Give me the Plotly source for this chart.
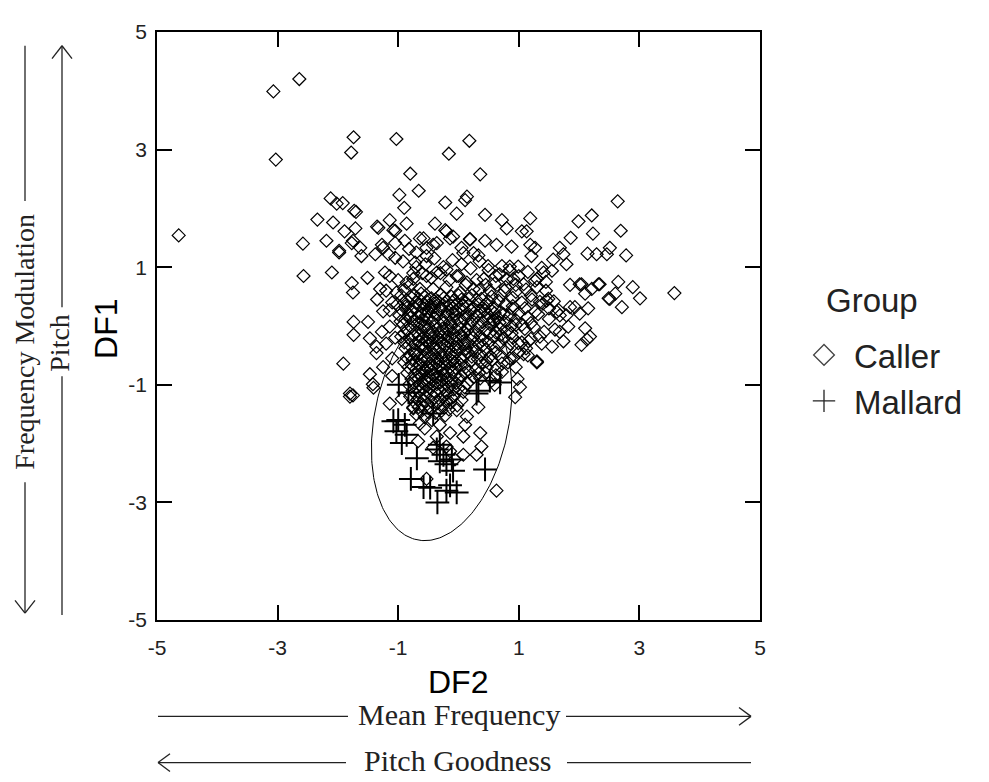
import numpy as np
import plotly.graph_objects as go

# ---------------- data (DF2, DF1) ----------------
CALLER_OUTLYING = [
    (-4.64, 1.54), (-3.07, 3.99), (-2.64, 4.20), (-3.03, 2.83), (-1.74, 3.21), (-1.78, 2.95),
    (-1.03, 3.18), (0.18, 3.15), (-0.16, 2.93), (-0.80, 2.59), (0.36, 2.58), (-0.66, 2.30),
    (-0.98, 2.23), (-0.90, 2.01), (-0.22, 2.10), (0.11, 2.14), (0.14, 2.20), (-0.03, 1.91),
    (3.58, 0.56), (3.01, 0.47), (0.63, -2.80),
]
CALLER_UPPER_LEFT = [
    (-2.12, 2.17), (-2.02, 2.08), (-1.92, 2.09), (-1.73, 1.96), (-1.70, 1.94), (-2.34, 1.81),
    (-2.08, 1.76), (-2.58, 1.40), (-2.57, 0.85), (-2.19, 1.45), (-1.89, 1.61), (-1.71, 1.66),
    (-1.75, 1.45), (-1.98, 1.28), (-1.63, 1.33), (-2.10, 0.91), (-1.33, 1.67), (-1.14, 1.80),
    (-0.86, 1.74), (-1.05, 1.62), (-0.89, 1.45), (-1.27, 1.38), (-0.82, 1.31), (-0.39, 1.74),
    (-0.58, 1.49), (-0.42, 1.38), (-0.14, 1.49), (-0.22, 1.63), (-1.98, 1.25), (-1.77, 1.41),
    (-1.61, 1.19), (-1.51, 0.82), (-1.77, 0.73), (-1.75, 0.57), (-1.35, 1.69), (-1.08, 1.63),
    (-1.05, 1.41), (-1.25, 1.33), (-1.38, 1.22), (-1.16, 1.22), (-1.05, 1.16), (-1.22, 0.91),
    (-0.92, 1.10), (-0.72, 1.08), (-0.53, 1.19), (-0.64, 1.49), (-0.53, 1.33), (-0.36, 1.41),
    (-0.20, 1.61), (-0.09, 1.52), (0.05, 1.33), (0.19, 1.47), (0.25, 1.24), (-0.75, 0.80),
    (-0.53, 0.85), (-0.36, 0.91), (-0.20, 0.96), (-0.03, 0.85), (0.14, 0.74), (-0.86, 0.74),
    (-0.64, 0.63), (-0.42, 0.63), (-0.20, 0.66), (0.02, 0.57), (0.25, 0.63), (-1.03, 0.57),
    (-1.30, 0.63), (-1.14, 0.85), (-0.70, 1.25), (-0.55, 1.05), (-0.40, 1.15), (-0.25, 1.00),
    (-0.10, 1.12), (0.05, 1.05), (0.20, 0.98), (0.35, 1.10), (-0.60, 0.90), (-0.45, 0.82),
    (-0.30, 0.90), (-0.15, 0.78), (0.00, 0.85), (0.12, 0.70), (0.30, 0.78), (0.45, 0.70),
    (-0.80, 0.70), (-1.00, 0.78), (-1.20, 0.60), (-1.35, 0.45), (-1.10, 0.40), (-1.25, 0.25),
    (-0.90, 0.62), (-0.75, 0.90), (-0.70, 1.00),
]
CALLER_UPPER_RIGHT = [
    (2.64, 2.12), (2.21, 1.88), (1.99, 1.78), (2.69, 1.62), (2.23, 1.57), (1.86, 1.50),
    (2.14, 1.23), (2.29, 1.22), (2.46, 1.22), (2.51, 1.33), (2.78, 1.20), (1.68, 1.33),
    (1.74, 1.22), (1.79, 1.05), (1.57, 1.13), (1.38, 0.99), (1.55, 0.94), (2.89, 0.66),
    (2.65, 0.75), (2.71, 0.32), (2.51, 0.46), (2.60, 0.55), (2.34, 0.71), (2.21, 0.63),
    (2.10, 0.55), (2.01, 0.71), (1.85, 0.70), (2.15, 0.30), (1.93, 0.32), (1.66, 0.27),
    (1.79, 0.18), (1.45, 0.75), (1.30, 0.80), (1.49, 0.46), (1.35, 0.41), (0.44, 1.89),
    (0.72, 1.80), (1.19, 1.83), (0.80, 1.66), (1.05, 1.61), (1.13, 1.61), (0.19, 1.48),
    (0.44, 1.45), (0.63, 1.38), (0.88, 1.35), (1.19, 1.38), (1.27, 1.33), (0.33, 1.20),
    (0.08, 1.24), (1.21, 1.19), (0.49, 1.02), (0.72, 1.02), (0.85, 1.01), (0.99, 1.01),
    (2.49, 0.47), (2.32, 0.71), (2.04, 0.71), (2.18, -0.18), (2.13, -0.23), (2.04, -0.32),
    (2.10, -0.04), (1.82, -0.01), (1.68, -0.10), (1.74, -0.26), (2.01, 0.21), (1.85, 0.32),
    (1.63, 0.24), (1.46, 0.43), (1.27, 0.24), (1.30, -0.60), (1.05, 0.02), (0.88, -0.12),
    (0.99, -0.29), (1.16, -0.26), (1.08, -0.48), (0.91, -0.54), (1.41, 0.91), (1.27, 0.77),
    (0.91, 0.80), (1.08, 0.71),
]
CALLER_WING = [
    (0.50, 0.95), (0.68, 0.88), (0.85, 0.95), (1.00, 0.85), (1.15, 0.92), (0.60, 0.72),
    (0.78, 0.66), (0.95, 0.70), (1.12, 0.62), (1.30, 0.66), (1.45, 0.60), (0.70, 0.52),
    (0.90, 0.48), (1.05, 0.40), (1.22, 0.45), (1.40, 0.38), (1.58, 0.42), (1.00, 0.22),
    (1.15, 0.15), (1.32, 0.20), (1.50, 0.12), (1.68, 0.18), (0.95, 0.02), (1.10, -0.05),
    (1.25, -0.02), (1.42, -0.10), (1.60, -0.06), (0.90, -0.20), (1.05, -0.28), (1.20, -0.22),
    (1.38, -0.30), (1.55, -0.35), (1.00, -0.45), (1.15, -0.50), (0.85, -0.55), (0.95, -0.70),
    (0.98, -0.90), (0.60, -1.00), (0.35, 0.62), (0.52, 0.60), (0.42, 0.80), (0.62, 0.85),
    (0.80, 0.80), (0.58, 0.08), (0.75, 0.20), (0.90, 0.34), (0.82, -0.62), (0.72, -0.78),
    (1.10, 0.30), (1.20, 0.05), (1.35, -0.18), (1.50, 0.30), (1.12, -0.38), (0.76, 0.60),
    (0.95, 0.58), (1.20, 0.52),
]
CALLER_LEFT = [
    (-1.74, 0.07), (-1.50, 0.07), (-1.74, -0.15), (-1.47, -0.21), (-1.36, -0.35), (-1.27, -0.10),
    (-1.14, -0.01), (-1.36, -0.46), (-1.91, -0.64), (-1.47, -0.82), (-1.42, -0.99), (-1.80, -1.15),
    (-1.14, 0.27), (-1.20, -0.30), (-1.10, -0.55), (-1.05, -0.20), (-1.25, -0.70), (-1.10, -0.85),
]
CALLER_CORE = [
    (-0.95, 0.52), (-0.78, 0.48), (-0.62, 0.55), (-0.45, 0.47), (-0.30, 0.53), (-0.12, 0.50),
    (0.05, 0.45), (0.22, 0.52), (0.38, 0.46), (0.55, 0.50), (-0.70, 0.40), (-0.20, 0.42),
    (-1.02, 0.36), (-0.88, 0.33), (-0.72, 0.30), (-0.58, 0.37), (-0.40, 0.32), (-0.26, 0.36),
    (-0.10, 0.30), (0.08, 0.35), (0.25, 0.30), (0.42, 0.34), (0.60, 0.30), (0.78, 0.36),
    (-0.50, 0.25), (0.15, 0.22), (-0.98, 0.18), (-0.82, 0.20), (-0.66, 0.15), (-0.52, 0.12),
    (-0.36, 0.20), (-0.22, 0.16), (-0.05, 0.20), (0.10, 0.12), (0.30, 0.17), (0.48, 0.20),
    (0.65, 0.14), (0.85, 0.18), (-0.44, 0.08), (-0.15, 0.06), (-0.92, 0.02), (-0.78, -0.02),
    (-0.63, 0.04), (-0.50, -0.03), (-0.38, 0.01), (-0.27, -0.05), (-0.12, 0.00), (0.02, -0.04),
    (0.18, 0.02), (0.35, -0.02), (0.52, 0.03), (0.70, -0.05), (0.88, 0.00), (-0.70, -0.10),
    (-0.32, -0.12), (0.10, -0.10), (-0.95, -0.18), (-0.80, -0.22), (-0.66, -0.17), (-0.55, -0.25),
    (-0.42, -0.20), (-0.30, -0.24), (-0.18, -0.18), (-0.05, -0.22), (0.08, -0.26), (0.24, -0.20),
    (0.40, -0.24), (0.58, -0.18), (0.75, -0.22), (-0.48, -0.32), (-0.22, -0.33), (0.00, -0.35),
    (-0.88, -0.38), (-0.74, -0.42), (-0.62, -0.37), (-0.52, -0.45), (-0.40, -0.40), (-0.30, -0.46),
    (-0.16, -0.40), (-0.04, -0.44), (0.12, -0.38), (0.28, -0.43), (0.45, -0.40), (0.62, -0.45),
    (0.80, -0.38), (-0.35, -0.55), (-0.10, -0.52), (-0.90, -0.62), (-0.76, -0.58), (-0.65, -0.65),
    (-0.55, -0.60), (-0.44, -0.66), (-0.33, -0.60), (-0.22, -0.64), (-0.10, -0.60), (0.04, -0.66),
    (0.20, -0.60), (0.38, -0.63), (0.55, -0.58), (0.72, -0.64), (-0.60, -0.72), (-0.26, -0.74),
    (-0.85, -0.80), (-0.72, -0.84), (-0.60, -0.79), (-0.50, -0.86), (-0.40, -0.80), (-0.30, -0.85),
    (-0.18, -0.79), (-0.06, -0.84), (0.10, -0.80), (0.26, -0.86), (0.45, -0.80), (0.62, -0.84),
    (-0.44, -0.92), (-0.12, -0.93), (-0.82, -1.00), (-0.70, -1.04), (-0.58, -0.98), (-0.48, -1.05),
    (-0.36, -0.99), (-0.25, -1.04), (-0.12, -1.00), (0.00, -1.06), (0.14, -0.98), (-0.65, -1.12),
    (-0.40, -1.12), (-0.18, -1.14), (-0.80, -1.20), (-0.68, -1.25), (-0.55, -1.20), (-0.45, -1.28),
    (-0.20, -1.28), (-0.08, -1.20), (0.05, -1.26), (-0.60, -1.34), (-0.25, -1.36),
    (-0.75, -1.40), (-0.62, -1.45), (-0.38, -1.48), (-0.16, -1.42),
    (-0.62, 0.22), (-0.48, 0.30), (-0.34, 0.42), (-0.18, 0.25), (-0.02, 0.38), (-0.56, 0.00),
    (-0.42, -0.10), (-0.20, -0.06), (-0.08, -0.12), (-0.60, -0.30), (-0.36, -0.30), (-0.12, -0.30),
    (0.04, -0.14), (-0.68, -0.50), (-0.46, -0.52), (-0.22, -0.50), (0.02, -0.55), (-0.52, -0.70),
    (-0.38, -0.72), (-0.14, -0.70), (-0.66, -0.90), (-0.28, -0.92), (-0.54, -1.10), (-0.30, -1.10),
]
CALLER_CORE_DENSE = [
    (-0.86, 0.44), (-0.66, 0.46), (-0.52, 0.41), (-0.38, 0.45), (-0.08, 0.43), (0.12, 0.40),
    (0.30, 0.44), (0.47, 0.38), (0.66, 0.43), (-0.94, 0.27), (-0.79, 0.26), (-0.57, 0.29),
    (-0.43, 0.24), (-0.31, 0.28), (-0.04, 0.26), (0.20, 0.27), (0.36, 0.25), (0.53, 0.28),
    (0.70, 0.24), (0.90, 0.29), (-0.88, 0.11), (-0.74, 0.09), (-0.59, 0.10), (-0.29, 0.09),
    (-0.09, 0.12), (0.04, 0.08), (0.22, 0.10), (0.40, 0.07), (0.57, 0.11), (0.78, 0.08),
    (0.95, 0.10), (-0.85, -0.08), (-0.62, -0.07), (-0.48, -0.10), (-0.15, -0.08), (0.15, -0.07),
    (0.28, -0.10), (0.45, -0.08), (0.62, -0.11), (0.80, -0.09), (-0.90, -0.28), (-0.72, -0.30),
    (-0.52, -0.27), (-0.27, -0.29), (-0.03, -0.30), (0.16, -0.29), (0.33, -0.31), (0.50, -0.28),
    (0.68, -0.32), (0.86, -0.30), (-0.80, -0.50), (-0.58, -0.52), (-0.40, -0.49), (-0.28, -0.53),
    (-0.14, -0.48), (0.10, -0.50), (0.22, -0.52), (0.37, -0.49), (0.53, -0.51), (0.70, -0.53),
    (-0.83, -0.70), (-0.70, -0.73), (-0.46, -0.74), (-0.32, -0.69), (-0.04, -0.72), (0.12, -0.70),
    (0.30, -0.73), (0.47, -0.70), (0.64, -0.72), (-0.78, -0.90), (-0.56, -0.92), (-0.36, -0.88),
    (-0.20, -0.91), (0.02, -0.90), (0.20, -0.92), (0.36, -0.89), (0.55, -0.93), (-0.76, -1.10),
    (-0.60, -1.05), (-0.46, -1.16), (-0.24, -1.18), (-0.08, -1.08), (0.08, -1.12), (-0.72, -1.30),
    (-0.52, -1.33), (-0.36, -1.32), (-0.14, -1.30), (-0.02, -1.35),
    (-0.90, 0.40), (-0.73, 0.52), (-0.56, 0.50), (-0.41, 0.38), (-0.24, 0.48), (-0.14, 0.36),
    (0.00, 0.52), (0.17, 0.46), (0.33, 0.37), (0.50, 0.42), (-0.84, 0.32), (-0.64, 0.36),
    (-0.46, 0.34), (-0.28, 0.30), (-0.10, 0.22), (0.06, 0.28), (0.26, 0.22), (0.44, 0.27),
    (0.60, 0.22), (-0.96, 0.08), (-0.80, 0.14), (-0.68, 0.05), (-0.54, 0.18), (-0.40, 0.13),
    (-0.24, 0.06), (-0.02, 0.10), (0.14, 0.16), (0.32, 0.05), (0.50, 0.13), (0.68, 0.06),
    (-0.90, -0.12), (-0.74, -0.15), (-0.60, -0.20), (-0.46, -0.16), (-0.34, -0.20), (-0.24, -0.14),
    (-0.10, -0.22), (0.06, -0.18), (0.20, -0.15), (0.36, -0.17), (0.52, -0.12), (0.70, -0.15),
    (-0.82, -0.32), (-0.66, -0.26), (-0.56, -0.36), (-0.44, -0.28), (-0.32, -0.38), (-0.18, -0.26),
    (-0.06, -0.36), (0.10, -0.32), (0.24, -0.36), (0.40, -0.33), (0.58, -0.36), (-0.86, -0.54),
    (-0.72, -0.48), (-0.62, -0.58), (-0.50, -0.55), (-0.36, -0.63), (-0.20, -0.57), (-0.06, -0.62),
    (0.06, -0.58), (0.16, -0.45), (0.32, -0.56), (0.46, -0.60), (-0.78, -0.66), (-0.64, -0.82),
    (-0.54, -0.76), (-0.42, -0.84), (-0.24, -0.82), (-0.10, -0.77), (0.04, -0.84), (0.18, -0.78),
    (0.34, -0.80), (-0.74, -0.96), (-0.64, -1.00), (-0.52, -0.95), (-0.42, -1.00), (-0.30, -0.96),
    (-0.16, -1.04), (-0.04, -0.97), (0.10, -1.04), (-0.70, -1.17), (-0.58, -1.27), (-0.40, -1.22),
    (-0.30, -1.26), (-0.12, -1.22), (-0.66, -1.38), (-0.46, -1.40), (-0.28, -1.44), (-0.56, -1.55),
    (-0.44, -1.60), (-0.70, -1.50),
]
CALLER_LOWER = [
    (-1.80, -1.20), (-1.75, -1.18), (-1.41, -1.05), (-1.14, -1.32), (-0.94, -1.24), (-0.64, -1.66),
    (-0.67, -1.96), (-0.56, -1.74), (-0.31, -1.68), (-0.14, -1.82), (0.08, -1.88), (0.36, -1.82),
    (0.38, -2.05), (0.30, -2.19), (0.08, -2.19), (0.14, -1.54), (0.11, -1.68), (0.33, -1.38),
    (0.94, -1.21), (1.02, -1.04), (-0.53, -2.60), (-0.06, -2.27), (-0.36, -1.88), (-0.42, -2.07),
    (-0.20, -2.05), (-0.14, -2.13), (-0.50, -1.46), (-0.22, -1.52), (-0.03, -1.43), (-0.75, -1.38),
    (1.30, -0.62),
]
MALLARD = [
    (-0.99, -1.00), (-0.83, -1.13), (0.33, -1.10), (0.52, -0.93), (0.69, -0.96), (0.30, -1.15),
    (-0.42, -1.49), (-1.00, -1.60), (-0.89, -1.68), (-1.03, -1.79), (-0.86, -1.85), (-0.94, -1.99),
    (-1.08, -1.62), (-0.69, -2.25), (-0.31, -2.02), (-0.36, -2.10), (-0.25, -2.19), (-0.31, -2.30),
    (-0.20, -2.35), (-0.11, -2.27), (-0.09, -2.46), (0.44, -2.44), (-0.79, -2.60), (-0.47, -2.75),
    (-0.14, -2.71), (-0.03, -2.83), (-0.20, -2.80), (-0.35, -3.00), (-0.58, -2.74),
]
# Mallard confidence ellipse: x = cx + a*cos t + c*sin t ; y = cy + d*sin t
ELLIPSE_CENTER = (-0.28, -1.60)
ELLIPSE_A, ELLIPSE_C, ELLIPSE_D = 1.13, 0.28, 2.05

TICKS = [-5, -3, -1, 1, 3, 5]
GROUPS = ["Caller", "Mallard"]

caller = (CALLER_OUTLYING + CALLER_UPPER_LEFT + CALLER_UPPER_RIGHT + CALLER_WING
          + CALLER_LEFT + CALLER_CORE + CALLER_CORE_DENSE + CALLER_LOWER)
caller_df2 = [p[0] for p in caller]
caller_df1 = [p[1] for p in caller]
mallard_df2 = [p[0] for p in MALLARD]
mallard_df1 = [p[1] for p in MALLARD]

t = np.linspace(0, 2 * np.pi, 241)
ell_x = ELLIPSE_CENTER[0] + ELLIPSE_A * np.cos(t) + ELLIPSE_C * np.sin(t)
ell_y = ELLIPSE_CENTER[1] + ELLIPSE_D * np.sin(t)

# ---------------- figure ----------------
# the page body adds an 8 px offset; plot area sits at screen x 157..760, y 22..620
OFF = 8
W, H = 989 - OFF, 782 - OFF
PL, PR, PT, PB = 157, 760, 22, 620
L, T = PL - OFF, PT - OFF
R, B = W - (PR - OFF), H - (PB - OFF)
PW, PH = PR - PL, PB - PT


def px(x):
    return (x - PL) / PW


def py(y):
    return (PB - y) / PH


fig = go.Figure()
fig.add_trace(go.Scatter(
    x=caller_df2, y=caller_df1, mode="markers", showlegend=False, hoverinfo="skip",
    marker=dict(symbol="diamond-open", size=10, color="black", line=dict(width=1.2, color="black")),
))
fig.add_trace(go.Scatter(
    x=mallard_df2, y=mallard_df1, mode="markers", showlegend=False, hoverinfo="skip",
    marker=dict(symbol="cross-thin-open", size=17, color="black", line=dict(width=2, color="black")),
))
fig.add_trace(go.Scatter(
    x=ell_x, y=ell_y, mode="lines", showlegend=False, hoverinfo="skip",
    line=dict(color="black", width=1),
))
# legend entries
fig.add_trace(go.Scatter(
    x=[None], y=[None], mode="markers", name=GROUPS[0],
    marker=dict(symbol="diamond-open", size=16, color="#444", line=dict(width=1.3, color="#444")),
))
fig.add_trace(go.Scatter(
    x=[None], y=[None], mode="markers", name=GROUPS[1],
    marker=dict(symbol="cross-thin-open", size=16, color="#222", line=dict(width=1.3, color="#222")),
))

axis_common = dict(
    range=[-5, 5], tickvals=TICKS, ticktext=[str(v) for v in TICKS],
    ticks="inside", ticklen=15, tickwidth=1.5, tickcolor="black",
    showline=True, linecolor="black", linewidth=1.5, mirror="ticks",
    showgrid=False, zeroline=False,
    tickfont=dict(family="Liberation Sans, Arial", size=21, color="#222"),
)
fig.update_xaxes(**axis_common, ticklabelstandoff=8)
fig.update_yaxes(**axis_common, ticklabelstandoff=4)

serif = dict(family="Liberation Serif, Times New Roman", size=30, color="#222")
serif_left = dict(family="Liberation Serif, Times New Roman", size=28, color="#222")
sans_title = dict(family="Liberation Sans, Arial", size=32, color="black")
legend_font = dict(family="Liberation Sans, Arial", size=33, color="#222")

annotations = [
    dict(text="DF2", x=px(458), y=py(683), xref="paper", yref="paper", showarrow=False,
         xanchor="center", yanchor="middle", font=sans_title),
    dict(text="DF1", x=px(106), y=py(324), xref="paper", yref="paper", showarrow=False,
         xanchor="center", yanchor="middle", textangle=-90, font=sans_title),
    dict(text="Mean Frequency", x=px(459), y=py(716), xref="paper", yref="paper", showarrow=False,
         xanchor="center", yanchor="middle", font=serif),
    dict(text="Pitch Goodness", x=px(458), y=py(763), xref="paper", yref="paper", showarrow=False,
         xanchor="center", yanchor="middle", font=serif),
    dict(text="Frequency Modulation", x=px(25), y=py(337), xref="paper", yref="paper", showarrow=False,
         xanchor="center", yanchor="middle", textangle=-90, font=serif_left),
    dict(text="Pitch", x=px(60), y=py(338), xref="paper", yref="paper", showarrow=False,
         xanchor="center", yanchor="middle", textangle=-90, font=serif_left),
    dict(text="Group", x=px(824), y=py(295), xref="paper", yref="paper", showarrow=False,
         xanchor="left", yanchor="middle", font=legend_font),
]

shapes = []


def seg(x0, y0, x1, y1):
    shapes.append(dict(type="line", xref="paper", yref="paper",
                       x0=px(x0), y0=py(y0), x1=px(x1), y1=py(y1),
                       line=dict(color="#222", width=1.3)))


# bottom arrows
seg(158, 718, 348, 718)
seg(566, 718, 751, 718)
seg(739, 709, 751, 718)
seg(739, 727, 751, 718)
seg(158, 765, 346, 765)
seg(567, 765, 751, 765)
seg(170, 756, 158, 765)
seg(170, 774, 158, 765)
# left arrows
seg(25, 36, 25, 194)
seg(25, 480, 25, 613)
seg(15, 600, 25, 613)
seg(35, 600, 25, 613)
seg(62, 36, 62, 302)
seg(62, 372, 62, 615)
seg(52, 49, 62, 36)
seg(72, 49, 62, 36)

fig.update_layout(
    width=W, height=H,
    margin=dict(l=L, r=R, t=T, b=B, pad=0),
    paper_bgcolor="white", plot_bgcolor="white",
    annotations=annotations, shapes=shapes,
    legend=dict(
        font=legend_font,
        x=px(794), y=py(322), xanchor="left", yanchor="top",
        bgcolor="rgba(0,0,0,0)", itemsizing="trace", itemwidth=50, tracegroupgap=0,
    ),
)

fig.write_html("out.html")
